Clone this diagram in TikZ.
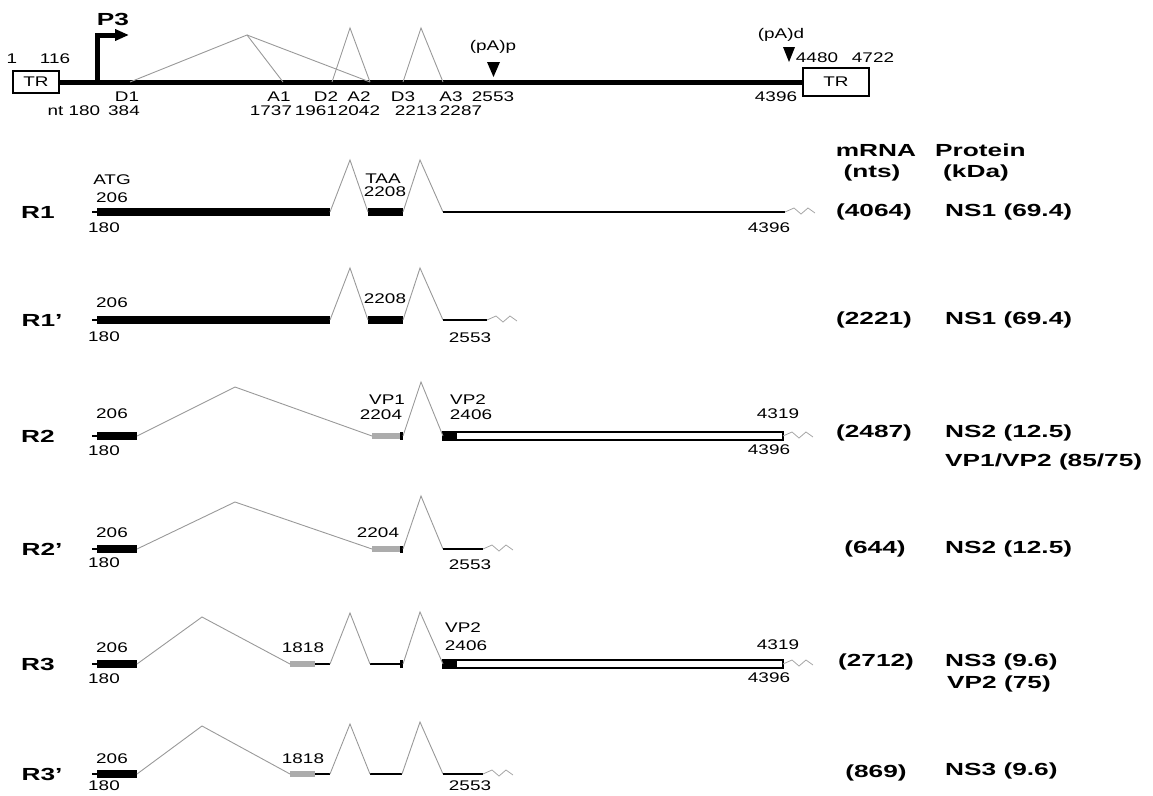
\documentclass[tikz,border=0pt]{standalone}
\usepackage{fontspec}
\setmainfont{Liberation Sans}[FakeStretch=1.35]
\newfontfamily\widebold{Liberation Sans}[FakeStretch=1.5]
\usetikzlibrary{arrows.meta}

\begin{document}
\begin{tikzpicture}[
  x=1pt,
  y=-1pt,
  genome/.style={draw=black, line width=5pt},
  trbox/.style={
    draw=black,
    fill=white,
    line width=1.1pt,
    inner sep=0pt,
    font=\fontsize{14}{16}\selectfont
  },
  coding/.style={fill=black},
  vpexon/.style={fill=gray!65},
  capsid/.style={draw=black, fill=white, line width=1.3pt},
  utr/.style={draw=black, line width=2.6pt},
  splice/.style={draw=gray!80, line width=0.9pt},
  polyA/.style={draw=gray!70, line width=0.8pt},
  num/.style={font=\fontsize{14}{16}\selectfont, inner sep=0pt},
  heading/.style={font=\widebold\bfseries\fontsize{17.5}{19}\selectfont, inner sep=0pt}
]
\path[use as bounding box] (0,0) rectangle (1153,795);

% ---------------------------------------------------------------------------
% Genome map with P3 promoter, splice sites and polyadenylation signals
% ---------------------------------------------------------------------------
\node[trbox, minimum width=46pt, minimum height=22pt] (trleft) at (36,82) {TR};
\node[trbox, minimum width=66pt, minimum height=28pt] (trright) at (836,82) {TR};
\draw[genome] (trleft.east) -- (trright.west);

\coordinate (p3base) at (97,82);
\draw[genome, -{Triangle[length=14pt, width=11pt]}] (p3base) -- (97,35) -- (129,35);
\node[heading] (p3) at (113,19) {P3};

\coordinate (gd1) at (130,82);
\coordinate (gtop1) at (247,35);
\coordinate (ga1) at (283,82);
\coordinate (gd2) at (332,82);
\coordinate (gtop2) at (350,28);
\coordinate (ga2) at (370,82);
\coordinate (gd3) at (403,82);
\coordinate (gtop3) at (421,28);
\coordinate (ga3) at (443,82);
\draw[splice] (gd1) -- (gtop1) -- (ga1);
\draw[splice] (gtop1) -- (ga2);
\draw[splice] (gd2) -- (gtop2) -- (ga2);
\draw[splice] (gd3) -- (gtop3) -- (ga3);

\fill (487,62) -- (500,62) -- (493.5,77) -- cycle;
\fill (783,47) -- (795,47) -- (789,62) -- cycle;
\node[num] (pap) at (493,47) {(pA)p};
\node[num] (pad) at (781,35) {(pA)d};

\node[num] (g1) at (12,59) {1};
\node[num] (g116) at (55,59) {116};
\node[num] (g4480) at (817,58) {4480};
\node[num] (g4722) at (873,58) {4722};

\node[num] (gD1) at (127,97) {D1};
\node[num] (gA1) at (279,97) {A1};
\node[num] (gD2) at (326,97) {D2};
\node[num] (gA2) at (359,97) {A2};
\node[num] (gD3) at (403,97) {D3};
\node[num] (gA3) at (451,97) {A3};
\node[num] (g2553) at (493,97) {2553};
\node[num] (g4396) at (776,97) {4396};

\node[num] (gnt) at (74,111) {nt 180};
\node[num] (g384) at (124,111) {384};
\node[num] (g1737) at (271,111) {1737};
\node[num] (g1961) at (316,111) {1961};
\node[num] (g2042) at (359,111) {2042};
\node[num] (g2213) at (416,111) {2213};
\node[num] (g2287) at (461,111) {2287};

% Column headings.
\node[heading] (mrna) at (876,150) {mRNA};
\node[heading] (nts) at (872,173) {(nts)};
\node[heading, anchor=west] (protein) at (935,150) {Protein};
\node[heading, anchor=west] (kda) at (943,173) {(kDa)};

% ---------------------------------------------------------------------------
% R1
% ---------------------------------------------------------------------------
\begin{scope}[shift={(0,212)}]
  \node[heading] (r1name) at (38,0) {R1};
  \draw[utr] (92,0) -- (98,0);
  \fill[coding] (97,-4) rectangle (330,4);
  \fill[coding] (368,-4) rectangle (403,4);
  \coordinate (r1d1) at (330,0);
  \coordinate (r1top1) at (350,-52);
  \coordinate (r1a1) at (368,0);
  \coordinate (r1d2) at (403,0);
  \coordinate (r1top2) at (420,-52);
  \coordinate (r1a2) at (443,0);
  \coordinate (r1end) at (785,0);
  \draw[splice] (r1d1) -- (r1top1) -- (r1a1);
  \draw[splice] (r1d2) -- (r1top2) -- (r1a2);
  \draw[utr] (r1a2) -- (r1end);
  \draw[polyA] (r1end) -- ++(9,-4) -- ++(7,6) -- ++(7,-6) -- ++(7,5);
  \node[num] (r1atg) at (112,-32) {ATG};
  \node[num] (r1start) at (112,-14) {206};
  \node[num] (r1cap) at (104,16) {180};
  \node[num] (r1taa) at (383,-33) {TAA};
  \node[num] (r1stop) at (385,-20) {2208};
  \node[num] (r1poly) at (769,16) {4396};
  \node[heading] (r1size) at (874,0) {(4064)};
  \node[heading, anchor=west] (r1prot) at (945,0) {NS1 (69.4)};
\end{scope}

% ---------------------------------------------------------------------------
% R1'
% ---------------------------------------------------------------------------
\begin{scope}[shift={(0,320)}]
  \node[heading] (r1pname) at (42,0) {R1’};
  \draw[utr] (92,0) -- (98,0);
  \fill[coding] (97,-4) rectangle (330,4);
  \fill[coding] (368,-4) rectangle (403,4);
  \coordinate (r1pd1) at (330,0);
  \coordinate (r1ptop1) at (350,-52);
  \coordinate (r1pa1) at (368,0);
  \coordinate (r1pd2) at (403,0);
  \coordinate (r1ptop2) at (420,-52);
  \coordinate (r1pa2) at (443,0);
  \coordinate (r1pend) at (487,0);
  \draw[splice] (r1pd1) -- (r1ptop1) -- (r1pa1);
  \draw[splice] (r1pd2) -- (r1ptop2) -- (r1pa2);
  \draw[utr] (r1pa2) -- (r1pend);
  \draw[polyA] (r1pend) -- ++(9,-4) -- ++(7,6) -- ++(7,-6) -- ++(7,5);
  \node[num] (r1pstart) at (112,-17) {206};
  \node[num] (r1pcap) at (104,17) {180};
  \node[num] (r1pstop) at (385,-21) {2208};
  \node[num] (r1ppoly) at (470,18) {2553};
  \node[heading] (r1psize) at (874,0) {(2221)};
  \node[heading, anchor=west] (r1pprot) at (945,0) {NS1 (69.4)};
\end{scope}

% ---------------------------------------------------------------------------
% R2
% ---------------------------------------------------------------------------
\begin{scope}[shift={(0,436)}]
  \node[heading] (r2name) at (38,0) {R2};
  \draw[utr] (92,0) -- (98,0);
  \fill[coding] (97,-4) rectangle (137,4);
  \fill[vpexon] (372,-3) rectangle (400,3);
  \fill[coding] (400,-4) rectangle (403,4);
  \draw[capsid] (443,-4) rectangle (783,4);
  \fill[coding] (443.6,-3.4) rectangle (457,3.4);
  \coordinate (r2d1) at (137,0);
  \coordinate (r2top1) at (235,-49);
  \coordinate (r2a1) at (372,0);
  \coordinate (r2d2) at (403,0);
  \coordinate (r2top2) at (421,-54);
  \coordinate (r2a2) at (443,0);
  \coordinate (r2end) at (783,0);
  \draw[splice] (r2d1) -- (r2top1) -- (r2a1);
  \draw[splice] (r2d2) -- (r2top2) -- (r2a2);
  \draw[polyA] (r2end) -- ++(9,-4) -- ++(7,6) -- ++(7,-6) -- ++(7,5);
  \node[num] (r2start) at (112,-22) {206};
  \node[num] (r2cap) at (104,15) {180};
  \node[num] (r2vp1) at (387,-36) {VP1};
  \node[num] (r2vp1start) at (381,-21) {2204};
  \node[num] (r2vp2) at (468,-36) {VP2};
  \node[num] (r2vp2start) at (471,-21) {2406};
  \node[num] (r2stop) at (778,-22) {4319};
  \node[num] (r2poly) at (769,14) {4396};
  \node[heading] (r2size) at (874,-3) {(2487)};
  \node[heading, anchor=west] (r2prot) at (945,-3) {NS2 (12.5)};
  \node[heading, anchor=west] (r2caps) at (945,26) {VP1/VP2 (85/75)};
\end{scope}

% ---------------------------------------------------------------------------
% R2'
% ---------------------------------------------------------------------------
\begin{scope}[shift={(0,549)}]
  \node[heading] (r2pname) at (42,0) {R2’};
  \draw[utr] (92,0) -- (98,0);
  \fill[coding] (97,-4) rectangle (137,4);
  \fill[vpexon] (372,-3) rectangle (400,3);
  \fill[coding] (400,-3.5) rectangle (403,3.5);
  \coordinate (r2pd1) at (137,0);
  \coordinate (r2ptop1) at (235,-47);
  \coordinate (r2pa1) at (372,0);
  \coordinate (r2pd2) at (403,0);
  \coordinate (r2ptop2) at (421,-53);
  \coordinate (r2pa2) at (443,0);
  \coordinate (r2pend) at (483,0);
  \draw[splice] (r2pd1) -- (r2ptop1) -- (r2pa1);
  \draw[splice] (r2pd2) -- (r2ptop2) -- (r2pa2);
  \draw[utr] (r2pa2) -- (r2pend);
  \draw[polyA] (r2pend) -- ++(9,-4) -- ++(7,6) -- ++(7,-6) -- ++(7,5);
  \node[num] (r2pstart) at (112,-16) {206};
  \node[num] (r2pcap) at (104,14) {180};
  \node[num] (r2pvp1start) at (378,-16) {2204};
  \node[num] (r2ppoly) at (470,16) {2553};
  \node[heading] (r2psize) at (875,0) {(644)};
  \node[heading, anchor=west] (r2pprot) at (945,0) {NS2 (12.5)};
\end{scope}

% ---------------------------------------------------------------------------
% R3
% ---------------------------------------------------------------------------
\begin{scope}[shift={(0,664)}]
  \node[heading] (r3name) at (38,0) {R3};
  \draw[utr] (92,0) -- (98,0);
  \fill[coding] (97,-4) rectangle (137,4);
  \fill[vpexon] (290,-3) rectangle (315,3);
  \draw[utr] (315,0) -- (330,0);
  \draw[utr] (370,0) -- (401,0);
  \fill[coding] (400,-4) rectangle (403,4);
  \draw[capsid] (443,-4) rectangle (783,4);
  \fill[coding] (443.6,-3.4) rectangle (457,3.4);
  \coordinate (r3d1) at (137,0);
  \coordinate (r3top1) at (202,-47);
  \coordinate (r3a1) at (290,0);
  \coordinate (r3d2) at (330,0);
  \coordinate (r3top2) at (350,-51);
  \coordinate (r3a2) at (370,0);
  \coordinate (r3d3) at (403,0);
  \coordinate (r3top3) at (420,-52);
  \coordinate (r3a3) at (443,0);
  \coordinate (r3end) at (783,0);
  \draw[splice] (r3d1) -- (r3top1) -- (r3a1);
  \draw[splice] (r3d2) -- (r3top2) -- (r3a2);
  \draw[splice] (r3d3) -- (r3top3) -- (r3a3);
  \draw[polyA] (r3end) -- ++(9,-4) -- ++(7,6) -- ++(7,-6) -- ++(7,5);
  \node[num] (r3start) at (112,-16) {206};
  \node[num] (r3cap) at (104,15) {180};
  \node[num] (r3ns3) at (303,-16) {1818};
  \node[num] (r3vp2) at (463,-36) {VP2};
  \node[num] (r3vp2start) at (466,-18) {2406};
  \node[num] (r3stop) at (778,-19) {4319};
  \node[num] (r3poly) at (769,14) {4396};
  \node[heading] (r3size) at (876,-2) {(2712)};
  \node[heading, anchor=west] (r3prot) at (945,-2) {NS3 (9.6)};
  \node[heading, anchor=west] (r3caps) at (947,20) {VP2 (75)};
\end{scope}

% ---------------------------------------------------------------------------
% R3'
% ---------------------------------------------------------------------------
\begin{scope}[shift={(0,774)}]
  \node[heading] (r3pname) at (42,0) {R3’};
  \draw[utr] (92,0) -- (98,0);
  \fill[coding] (97,-4) rectangle (137,4);
  \fill[vpexon] (290,-3) rectangle (315,3);
  \draw[utr] (315,0) -- (330,0);
  \draw[utr] (370,0) -- (402,0);
  \coordinate (r3pd1) at (137,0);
  \coordinate (r3ptop1) at (202,-48);
  \coordinate (r3pa1) at (290,0);
  \coordinate (r3pd2) at (330,0);
  \coordinate (r3ptop2) at (350,-50);
  \coordinate (r3pa2) at (370,0);
  \coordinate (r3pd3) at (402,0);
  \coordinate (r3ptop3) at (420,-52);
  \coordinate (r3pa3) at (443,0);
  \coordinate (r3pend) at (483,0);
  \draw[splice] (r3pd1) -- (r3ptop1) -- (r3pa1);
  \draw[splice] (r3pd2) -- (r3ptop2) -- (r3pa2);
  \draw[splice] (r3pd3) -- (r3ptop3) -- (r3pa3);
  \draw[utr] (r3pa3) -- (r3pend);
  \draw[polyA] (r3pend) -- ++(9,-4) -- ++(7,6) -- ++(7,-6) -- ++(7,5);
  \node[num] (r3pstart) at (112,-15) {206};
  \node[num] (r3pcap) at (104,12) {180};
  \node[num] (r3pns3) at (303,-15) {1818};
  \node[num] (r3ppoly) at (470,12) {2553};
  \node[heading] (r3psize) at (876,-1) {(869)};
  \node[heading, anchor=west] (r3pprot) at (945,-3) {NS3 (9.6)};
\end{scope}

\end{tikzpicture}
\end{document}
